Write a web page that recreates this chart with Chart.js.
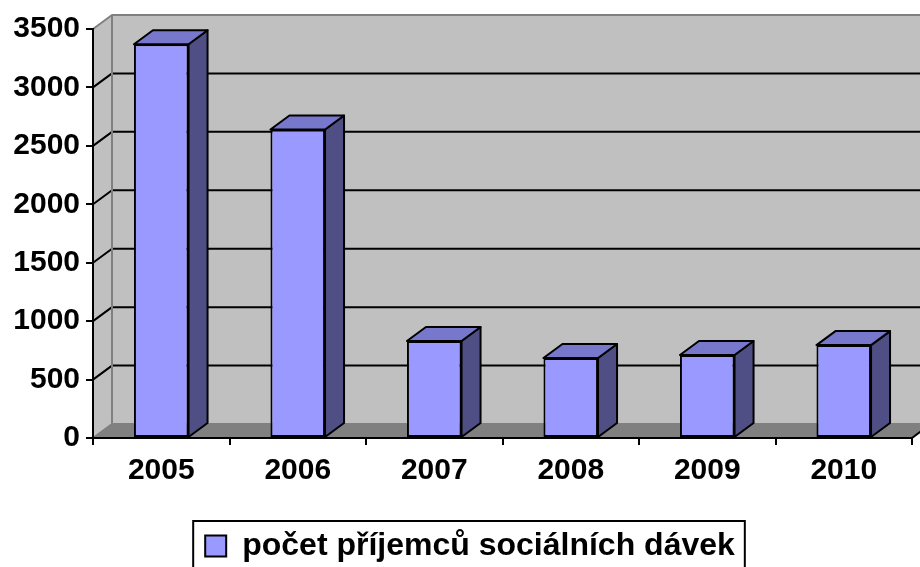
<!DOCTYPE html>
<html>
<head>
<meta charset="utf-8">
<script src="https://cdn.jsdelivr.net/npm/chart.js@4/dist/chart.umd.min.js"></script>
<style>
  html, body { margin: 0; padding: 0; background: #fff; }
  #wrap { width: 920px; height: 567px; }
</style>
</head>
<body>
<div id="wrap"><canvas id="chart"></canvas></div>
<script>
var years = ['2005', '2006', '2007', '2008', '2009', '2010'];
var recipients = [3370, 2640, 830, 685, 710, 795];
var seriesName = 'počet příjemců sociálních dávek';
var yTicks = { min: 0, max: 3500, step: 500 };

// fake 3d depth, in px
var DX = 19, DY = 14;

var colors = {
  front: '#9999FF',
  top: '#7777CC',
  side: '#4F4F85',
  wall: '#C0C0C0',
  floor: '#808080',
  edge: '#808080'
};

function poly(ctx, pts, fill, stroke, lw) {
  ctx.beginPath();
  ctx.moveTo(pts[0][0], pts[0][1]);
  for (var i = 1; i < pts.length; i++) ctx.lineTo(pts[i][0], pts[i][1]);
  ctx.closePath();
  if (fill) { ctx.fillStyle = fill; ctx.fill(); }
  if (stroke) { ctx.strokeStyle = stroke; ctx.lineWidth = lw || 2; ctx.stroke(); }
}

var walls3d = {
  id: 'walls3d',
  afterLayout: function(chart) {
    // nudge the legend a bit to the right, like the original
    // (hit boxes get rebuilt by the legend plugin in afterUpdate)
    var lg = chart.legend;
    if (!lg) return;
    lg.left += 14;
    lg.right += 14;
  },
  beforeDraw: function(chart) {
    var ctx = chart.ctx, a = chart.chartArea, y = chart.scales.y;
    ctx.save();
    ctx.lineJoin = 'round';
    // back wall
    poly(ctx, [[a.left + DX, a.top - DY], [a.right + DX, a.top - DY],
               [a.right + DX, a.bottom - DY], [a.left + DX, a.bottom - DY]], colors.wall);
    // side wall
    poly(ctx, [[a.left, a.top], [a.left + DX, a.top - DY],
               [a.left + DX, a.bottom - DY], [a.left, a.bottom]], colors.wall);
    // floor
    poly(ctx, [[a.left, a.bottom], [a.left + DX, a.bottom - DY],
               [a.right + DX, a.bottom - DY], [a.right, a.bottom]], colors.floor);

    // gridlines, bent along the side wall
    ctx.strokeStyle = '#000';
    ctx.lineWidth = 2;
    y.ticks.forEach(function(t) {
      if (t.value <= yTicks.min || t.value >= yTicks.max) return;
      var py = y.getPixelForValue(t.value);
      ctx.beginPath();
      ctx.moveTo(a.left, py);
      ctx.lineTo(a.left + DX, py - DY);
      ctx.lineTo(a.right + DX, py - DY);
      ctx.stroke();
    });

    // wall edges
    ctx.strokeStyle = colors.edge;
    ctx.beginPath();
    ctx.moveTo(a.left, a.top);
    ctx.lineTo(a.left + DX, a.top - DY);
    ctx.lineTo(a.right + DX, a.top - DY);
    ctx.moveTo(a.left + DX, a.top - DY);
    ctx.lineTo(a.left + DX, a.bottom - DY);
    ctx.lineTo(a.left, a.bottom);
    ctx.moveTo(a.left + DX, a.bottom - DY);
    ctx.lineTo(a.right + DX, a.bottom - DY);
    ctx.stroke();

    ctx.strokeStyle = '#000';
    ctx.beginPath();
    ctx.moveTo(a.right, a.bottom);
    ctx.lineTo(a.right + DX, a.bottom - DY);
    ctx.stroke();
    ctx.restore();
  },
  afterDatasetsDraw: function(chart) {
    var ctx = chart.ctx;
    ctx.save();
    ctx.lineJoin = 'round';
    chart.getDatasetMeta(0).data.forEach(function(bar) {
      var l = bar.x - bar.width / 2, r = bar.x + bar.width / 2;
      var t = bar.y, b = bar.base;
      poly(ctx, [[r, t], [r + DX, t - DY], [r + DX, b - DY], [r, b]], colors.side, '#000', 2);
      poly(ctx, [[l, t], [l + DX, t - DY], [r + DX, t - DY], [r, t]], colors.top, '#000', 2);
    });
    ctx.restore();
  },
  afterDraw: function(chart) {
    // box around the legend
    var lg = chart.legend;
    if (!lg || !lg.legendHitBoxes.length) return;
    var hb = lg.legendHitBoxes[0];
    var ctx = chart.ctx;
    ctx.save();
    ctx.strokeStyle = '#000';
    ctx.lineWidth = 2;
    ctx.strokeRect(hb.left - 12, hb.top - 9, hb.width + 22, 80);
    ctx.restore();
  }
};

var font = { family: '"Liberation Sans", Arial, sans-serif', size: 30, weight: 'bold' };
var legendFont = { family: '"Liberation Sans", Arial, sans-serif', size: 32, weight: 'bold' };

new Chart(document.getElementById('chart'), {
  type: 'bar',
  data: {
    labels: years,
    datasets: [{
      label: seriesName,
      data: recipients,
      backgroundColor: colors.front,
      borderColor: '#000',
      borderWidth: 2,
      borderSkipped: false,
      categoryPercentage: 1,
      barPercentage: 0.4
    }]
  },
  options: {
    responsive: true,
    maintainAspectRatio: false,
    animation: false,
    layout: { padding: { top: 29, left: 0, right: 8, bottom: -5 } },
    plugins: {
      tooltip: { enabled: false },
      legend: {
        position: 'bottom',
        labels: {
          color: '#000',
          font: legendFont,
          boxWidth: 21,
          boxHeight: 21,
          padding: 10
        }
      }
    },
    scales: {
      x: {
        afterFit: function(scale) { scale.height = 82; },
        grid: { drawOnChartArea: false, color: '#000', lineWidth: 2, tickLength: 7 },
        border: { display: true, color: '#000', width: 2 },
        ticks: { color: '#000', font: font, padding: 8 }
      },
      y: {
        min: yTicks.min,
        max: yTicks.max,
        afterFit: function(scale) { scale.width = 93; },
        grid: { drawOnChartArea: false, color: '#000', lineWidth: 2, tickLength: 7 },
        border: { display: true, color: '#000', width: 2 },
        ticks: {
          stepSize: yTicks.step, color: '#000', font: font, padding: 6,
          callback: function(v) { return String(v); }
        }
      }
    }
  },
  plugins: [walls3d]
});
</script>
</body>
</html>
